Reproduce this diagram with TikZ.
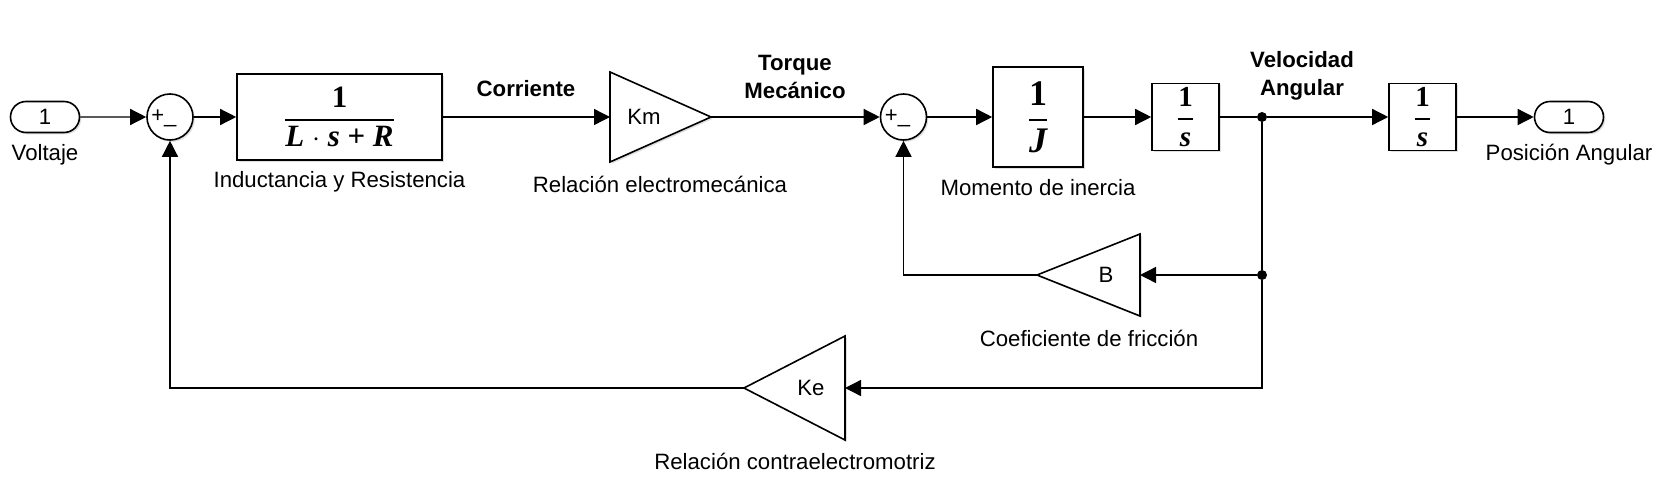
\documentclass[tikz,border=0pt]{standalone}
\usepackage{fontspec}
\setmainfont{Liberation Sans}
\newfontfamily\tfserif{Liberation Serif}
\usetikzlibrary{positioning,arrows.meta,shapes.misc,calc,shadows}

\newcommand{\tffrac}[2]{$\displaystyle{\mbox{#1}\above 0.9pt\mbox{#2}}$}

\begin{document}
\begin{tikzpicture}[x=0.5pt,y=-0.5pt,
    font=\fontsize{11.1}{13.3}\selectfont,
    shad/.style={drop shadow={shadow xshift=0.9pt,shadow yshift=-0.9pt,opacity=0.25}},
    blk/.style={draw,line width=0.8pt,fill=white,inner sep=0pt,shad},
    port/.style={draw,rounded rectangle,line width=0.8pt,fill=white,minimum width=34.5pt,minimum height=15.5pt,inner sep=0pt,shad},
    sumblk/.style={draw,circle,line width=0.8pt,fill=white,minimum size=23pt,inner sep=0pt,shad},
    gain/.style={draw,line width=0.8pt,fill=white,line join=miter,shad},
    sig/.style={-{Triangle[length=8pt,width=8pt]},line width=0.7pt},
    wire/.style={line width=0.7pt},
    brdot/.style={circle,fill,inner sep=0pt,minimum size=5pt},
    lbl/.style={font=\fontsize{11.1}{14.3}\selectfont\bfseries,align=center},
    sgn/.style={font=\fontsize{11}{12}\selectfont,inner sep=0pt,anchor=base west}
  ]
  \useasboundingbox (0,0) rectangle (1665,493);

  % forward path
  \node[port] (vin) at (45,117) {1};
  \node[sumblk] (s1) at (170,117) {};
  \node[sgn] (s1sg) at (151,122) {+\_};
  \node[blk,minimum width=102.5pt,minimum height=43pt,font=\tfserif\bfseries\fontsize{15.5}{18}\selectfont] (tf) at (339.5,117)
    {\tffrac{1}{\itshape L {\upshape$\cdot$} s {\upshape+} R}};
  \draw[gain] (610,72) -- (711,117) -- (610,162) -- cycle;
  \coordinate (km-in) at (610,117);
  \coordinate (km-out) at (711,117);
  \node (km) at (644,117) {Km};
  \node[sumblk] (s2) at (903.5,117) {};
  \node[sgn] (s2sg) at (884.5,122) {+\_};
  \node[blk,minimum width=45pt,minimum height=50pt,font=\tfserif\bfseries\fontsize{18}{21}\selectfont] (invj) at (1038,117)
    {\tffrac{1}{\itshape J}};
  \node[blk,minimum width=33.5pt,minimum height=33.5pt,font=\tfserif\bfseries\fontsize{14.5}{16}\selectfont] (int1) at (1185.5,117)
    {\tffrac{1}{\itshape s}};
  \node[brdot] (br1) at (1262,117) {};
  \node[blk,minimum width=33.5pt,minimum height=33.5pt,font=\tfserif\bfseries\fontsize{14.5}{16}\selectfont] (int2) at (1422.5,117)
    {\tffrac{1}{\itshape s}};
  \node[port] (vout) at (1569,117) {1};

  % feedback gains
  \node[brdot] (br2) at (1262,275) {};
  \draw[gain] (1140,234) -- (1037,275) -- (1140,316) -- cycle;
  \coordinate (b-in) at (1140,275);
  \coordinate (b-out) at (1037,275);
  \node (bg) at (1106,275) {B};
  \draw[gain] (845,336) -- (744,388) -- (845,440) -- cycle;
  \coordinate (ke-in) at (845,388);
  \coordinate (ke-out) at (744,388);
  \node (ke) at (811,388) {Ke};

  % labels
  \node (vinl) at (45,155) {Voltaje};
  \node (tfl) at (339.5,182) {Inductancia y Resistencia};
  \node[lbl] (il) at (526,89) {Corriente};
  \node (kml) at (660,184) {Relación electromecánica};
  \node[lbl] (tql) at (795,77) {Torque\\Mecánico};
  \node (jl) at (1038,188) {Momento de inercia};
  \node[lbl] (wl) at (1302,76) {Velocidad\\Angular};
  \node (voutl) at (1569,155) {Posición Angular};
  \node (bl) at (1089,338) {Coeficiente de fricción};
  \node (kel) at (795,461) {Relación contraelectromotriz};

  % signals
  \draw[sig] (vin) -- (s1);
  \draw[sig] (s1) -- (tf);
  \draw[sig] (tf) -- (km-in);
  \draw[sig] (km-out) -- (s2);
  \draw[sig] (s2) -- (invj);
  \draw[sig] (invj) -- (int1);
  \draw[wire] (int1) -- (br1);
  \draw[sig] (br1) -- (int2);
  \draw[sig] (int2) -- (vout);
  \draw[wire] (br1) -- (br2);
  \draw[sig] (br2) -- (b-in);
  \draw[sig] (b-out) -| (s2.south);
  \draw[sig] (br2) |- (ke-in);
  \draw[sig] (ke-out) -| (s1.south);
\end{tikzpicture}
\end{document}
